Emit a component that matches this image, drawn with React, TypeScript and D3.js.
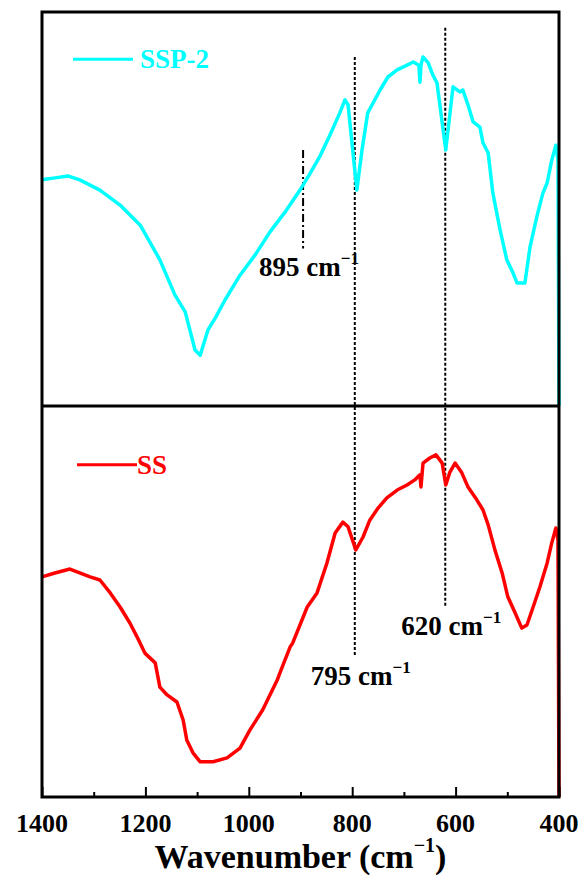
import { useRef, useEffect } from 'react';
import * as d3 from 'd3';

// SSP-2 spectrum (top panel), wavenumber in cm-1, transmittance in a.u.
const ssp2Wavenumber = [
  1400, 1375, 1350, 1327, 1288, 1249, 1210, 1172, 1143, 1123, 1104, 1094, 1079, 1065,
  1046, 1017, 988, 959, 930, 901, 882, 862, 843, 824, 814, 808, 791, 781, 770, 746,
  731, 713, 694, 682, 671, 669, 667, 663, 653, 644, 636, 619, 605, 592, 586, 576,
  566, 553, 547, 537, 528, 514, 501, 489, 481, 466, 456, 443, 431, 423, 414, 406,
  402, 400,
];
const ssp2Intensity = [
  57.4, 57.9, 58.4, 57.4, 54.8, 51.0, 45.9, 37.1, 28.2, 23.9, 14.2, 12.9, 19.3, 22.3,
  26.9, 33.2, 38.3, 44.2, 49.2, 54.8, 58.9, 63.5, 68.8, 74.4, 77.7, 76.4, 54.8, 65.0,
  74.4, 80.2, 83.5, 85.3, 86.5, 87.3, 86.5, 82.2, 86.5, 88.6, 87.1, 84.0, 82.0, 65.0,
  81.0, 79.7, 80.2, 76.4, 72.1, 70.8, 66.8, 64.2, 54.1, 44.7, 37.1, 33.8, 31.2, 31.2,
  40.4, 48.0, 54.1, 56.6, 62.4, 66.2, 62.4, 0,
];

// SS spectrum (bottom panel)
const ssWavenumber = [
  1400, 1375, 1346, 1307, 1288, 1268, 1249, 1230, 1216, 1201, 1181, 1172, 1158, 1139,
  1127, 1120, 1108, 1094, 1069, 1042, 1017, 998, 973, 945, 940, 920, 915, 887, 868,
  849, 833, 818, 808, 793, 779, 766, 750, 733, 713, 694, 679, 669, 667, 663, 650, 638,
  626, 619, 611, 601, 588, 576, 559, 547, 537, 524, 510, 499, 485, 472, 462, 450, 437,
  423, 414, 406, 402, 400,
];
const ssIntensity = [
  56.3, 57.3, 58.3, 56.3, 55.5, 52.2, 48.6, 44.5, 40.9, 36.8, 34.3, 28.1, 26.1, 24.3,
  19.7, 14.6, 11.3, 9.0, 9.0, 10.0, 12.5, 17.1, 22.3, 29.9, 31.7, 38.4, 39.4, 48.6, 52.2,
  59.8, 67.5, 70.3, 69.1, 63.2, 66.5, 70.8, 73.9, 76.5, 78.5, 79.8, 81.1, 82.4, 79.3, 85.4,
  86.7, 87.5, 85.4, 79.8, 83.1, 85.4, 82.9, 79.3, 76.0, 73.4, 69.6, 63.2, 57.3, 51.2, 47.1,
  43.2, 44.0, 48.6, 53.7, 59.8, 65.0, 68.8, 65.7, 0,
];

const majorTicks = [1400, 1200, 1000, 800, 600, 400];
const minorTicks = [1300, 1100, 900, 700, 500];

// marker lines: wavenumber, label, dash style, top (panel, value), bottom (panel, value)
const markers = [
  { wn: 895, label: '895 cm', dash: '8,3,2,3', from: ['top', 65], to: ['top', 40] },
  { wn: 795, label: '795 cm', dash: '3,2', from: ['top', 88.6], to: ['bottom', 35.8] },
  { wn: 620, label: '620 cm', dash: '3,2', from: ['top', 96], to: ['bottom', 48.6] },
];

const FONT = '"Liberation Serif", "Times New Roman", serif';

export default function App() {
  const svgRef = useRef(null);

  useEffect(() => {
    const left = 42, right = 559, top = 12, mid = 406, bottom = 797;

    const svg = d3.select(svgRef.current);
    svg.selectAll('*').remove();

    const x = d3.scaleLinear().domain([1400, 400]).range([left, right]);
    const yTop = d3.scaleLinear().domain([0, 100]).range([mid, top]);
    const yBot = d3.scaleLinear().domain([0, 100]).range([bottom, mid]);
    const yOf = (p) => (p[0] === 'top' ? yTop(p[1]) : yBot(p[1]));

    // marker lines
    markers.forEach((m) => {
      svg.append('line')
        .attr('x1', x(m.wn)).attr('x2', x(m.wn))
        .attr('y1', yOf(m.from)).attr('y2', yOf(m.to))
        .attr('stroke', '#000')
        .attr('stroke-width', 2)
        .attr('stroke-dasharray', m.dash);

      const t = svg.append('text')
        .attr('x', x(m.wn) - 44)
        .attr('y', yOf(m.to) + 28)
        .attr('font-family', FONT)
        .attr('font-weight', 'bold')
        .attr('font-size', 27)
        .attr('fill', '#000')
        .text(m.label);
      t.append('tspan')
        .attr('dy', -12)
        .attr('font-size', 17)
        .text('\u22121');
    });

    const line = (xs, ys, yScale) =>
      d3.line().x((d) => x(d)).y((_, i) => yScale(ys[i]))(xs);

    svg.append('path')
      .attr('d', line(ssp2Wavenumber, ssp2Intensity, yTop))
      .attr('fill', 'none')
      .attr('stroke', '#00ffff')
      .attr('stroke-width', 3.5)
      .attr('stroke-linejoin', 'round');

    svg.append('path')
      .attr('d', line(ssWavenumber, ssIntensity, yBot))
      .attr('fill', 'none')
      .attr('stroke', '#ff0000')
      .attr('stroke-width', 3.5)
      .attr('stroke-linejoin', 'round');

    // frame
    const frame = svg.append('g').attr('stroke', '#000').attr('stroke-width', 3);
    frame.append('rect')
      .attr('x', left).attr('y', top)
      .attr('width', right - left).attr('height', bottom - top)
      .attr('fill', 'none');
    frame.append('line')
      .attr('x1', left).attr('x2', right)
      .attr('y1', mid).attr('y2', mid);

    // bottom axis, ticks pointing inward
    const axis = svg.append('g').attr('transform', `translate(0,${bottom})`);
    axis.call(d3.axisBottom(x).tickValues(majorTicks).tickSize(-10).tickFormat(() => ''));
    axis.call((g) => g.select('.domain').remove());
    axis.selectAll('line').attr('stroke-width', 2);

    const minor = svg.append('g').attr('transform', `translate(0,${bottom})`);
    minor.call(d3.axisBottom(x).tickValues(minorTicks).tickSize(-5).tickFormat(() => ''));
    minor.call((g) => g.select('.domain').remove());
    minor.selectAll('line').attr('stroke-width', 2);

    svg.append('g')
      .selectAll('text')
      .data(majorTicks)
      .join('text')
      .attr('x', (d) => x(d))
      .attr('y', bottom + 35)
      .attr('text-anchor', 'middle')
      .attr('font-family', FONT)
      .attr('font-weight', 'bold')
      .attr('font-size', 26)
      .text((d) => d);

    const title = svg.append('text')
      .attr('x', (left + right) / 2)
      .attr('y', bottom + 71)
      .attr('text-anchor', 'middle')
      .attr('font-family', FONT)
      .attr('font-weight', 'bold')
      .attr('font-size', 34);
    title.append('tspan').text('Wavenumber (cm');
    title.append('tspan').attr('dy', -16).attr('font-size', 20).text('\u22121');
    title.append('tspan').attr('dy', 16).text(')');

    // legends
    const legends = [
      { name: 'SSP-2', color: '#00ffff', y: yTop(88) },
      { name: 'SS', color: '#ff0000', y: yBot(85) },
    ];
    legends.forEach((l, i) => {
      const lx = i === 0 ? 73 : 77;
      svg.append('line')
        .attr('x1', lx).attr('x2', lx + 60)
        .attr('y1', l.y).attr('y2', l.y)
        .attr('stroke', l.color)
        .attr('stroke-width', 3);
      svg.append('text')
        .attr('x', lx + (i === 0 ? 67 : 60))
        .attr('y', l.y + 9)
        .attr('font-family', FONT)
        .attr('font-weight', 'bold')
        .attr('font-size', 27)
        .attr('fill', l.color)
        .text(l.name);
    });
  }, []);

  return (
    <svg
      ref={svgRef}
      width={581}
      height={879}
      style={{ position: 'absolute', left: 0, top: 0, background: '#fff' }}
    />
  );
}
